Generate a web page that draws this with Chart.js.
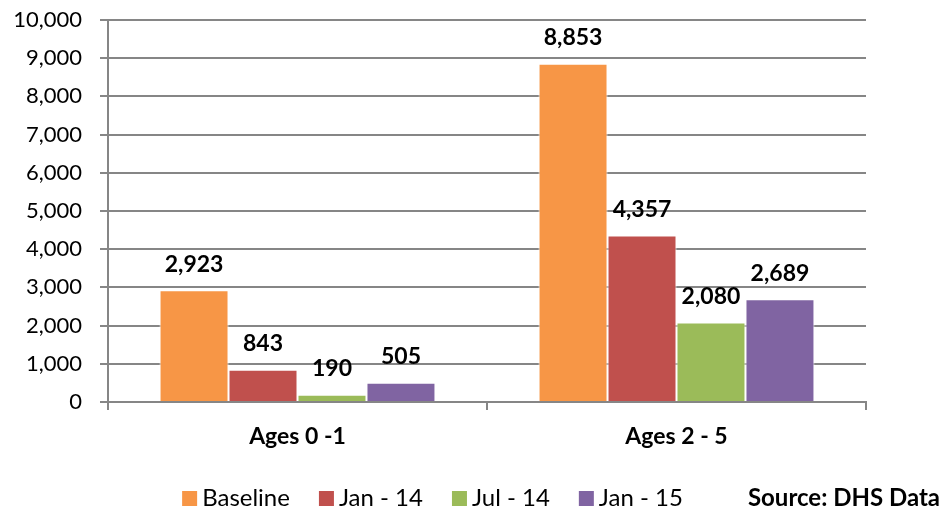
<!DOCTYPE html>
<html>
<head>
<meta charset="utf-8">
<script src="https://cdn.jsdelivr.net/npm/chart.js@4/dist/chart.umd.min.js"></script>
<style>
html,body{margin:0;padding:0;background:#fff;}
#wrap{width:943px;height:508px;position:relative;}
</style>
</head>
<body>
<div id="wrap"><canvas id="c" width="943" height="508"></canvas></div>
<script>
const categories = ["Ages 0 -1", "Ages 2 - 5"];
const seriesNames = ["Baseline", "Jan - 14", "Jul - 14", "Jan - 15"];
const baseline = [2923, 8853];
const jan14 = [843, 4357];
const jul14 = [190, 2080];
const jan15 = [505, 2689];
const yTicks = [0, 1000, 2000, 3000, 4000, 5000, 6000, 7000, 8000, 9000, 10000];
const sourceText = "Source: DHS Data";

const colors = ["#F79646", "#C0504D", "#9BBB59", "#8064A2"];
const FONT = "Lato, 'Open Sans', sans-serif";

const seriesValues = [baseline, jan14, jul14, jan15];

const labelPlugin = {
  id: 'valueLabels',
  afterDatasetsDraw(chart) {
    const ctx = chart.ctx;
    ctx.save();
    ctx.font = "bold 23px " + FONT;
    ctx.fillStyle = "#000";
    ctx.textAlign = "center";
    ctx.textBaseline = "middle";
    chart.data.datasets.forEach((ds, i) => {
      const meta = chart.getDatasetMeta(i);
      meta.data.forEach((bar, j) => {
        ctx.fillText(ds.data[j].toLocaleString('en-US'), bar.x, bar.y - 26);
      });
    });
    ctx.restore();
  }
};

const legendPlugin = {
  id: 'customLegend',
  afterDraw(chart) {
    const ctx = chart.ctx;
    ctx.save();
    ctx.font = "24px " + FONT;
    ctx.textBaseline = "middle";
    ctx.textAlign = "left";
    const box = 15, gap = 5, itemGap = 29;
    let total = 0;
    const widths = chart.data.datasets.map(ds => ctx.measureText(ds.label).width);
    widths.forEach((w, i) => { total += box + gap + w + (i < widths.length - 1 ? itemGap : 0); });
    let x = 432.5 - total / 2;
    const y = 498;
    chart.data.datasets.forEach((ds, i) => {
      ctx.fillStyle = ds.backgroundColor;
      ctx.fillRect(x, y - 7, box, box);
      ctx.fillStyle = "#000";
      ctx.fillText(ds.label, x + box + gap, y);
      x += box + gap + widths[i] + itemGap;
    });
    ctx.font = "bold 24px " + FONT;
    ctx.textAlign = "right";
    ctx.fillText(sourceText, 940, y);
    ctx.restore();
  }
};

new Chart(document.getElementById('c'), {
  type: 'bar',
  data: {
    labels: categories,
    datasets: seriesNames.map((name, i) => ({
      label: name,
      data: seriesValues[i],
      backgroundColor: colors[i],
      borderColor: "#ffffff",
      borderWidth: 1,
      categoryPercentage: 0.728,
      barPercentage: 1.0
    }))
  },
  options: {
    responsive: false,
    animation: false,
    devicePixelRatio: 1,
    layout: { autoPadding: false, padding: { top: 20, right: 77, bottom: 56, left: 0 } },
    plugins: { legend: { display: false }, tooltip: { enabled: false } },
    scales: {
      x: {
        grid: { display: true, drawOnChartArea: false, offset: true, tickLength: 8, color: "#868686", lineWidth: 2 },
        border: { display: true, color: "#868686", width: 2 },
        ticks: { font: { family: FONT, size: 23, weight: 'bold' }, color: "#000", padding: 13 },
        afterFit(scale) { scale.height = 50; scale.paddingLeft = 0; scale.paddingRight = 0; }
      },
      y: {
        min: 0, max: 10000,
        afterBuildTicks(scale) { scale.ticks = yTicks.map(v => ({ value: v })); },
        grid: { color: "#868686", lineWidth: 2, tickLength: 8 },
        border: { display: true, color: "#868686", width: 2 },
        ticks: { font: { family: FONT, size: 22 }, color: "#000", padding: 18,
                 callback: v => v.toLocaleString('en-US') },
        afterFit(scale) { scale.width = 108; scale.paddingTop = 0; scale.paddingBottom = 0; }
      }
    }
  },
  plugins: [labelPlugin, legendPlugin]
});
</script>
</body>
</html>
